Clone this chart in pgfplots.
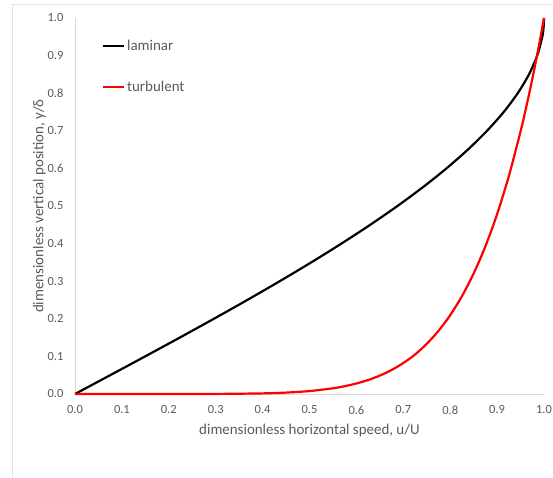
\documentclass[border=0pt]{standalone}
\usepackage{pgfplots}
\pgfplotsset{compat=1.18}
\usepackage{fontspec}
\setmainfont{Carlito}
\definecolor{txt}{HTML}{595959}
\definecolor{axl}{HTML}{D9D9D9}
\definecolor{brd}{HTML}{E3E3E3}
\begin{document}
\begin{tikzpicture}
\useasboundingbox (0,0) rectangle (553bp,-478bp);
\draw[brd, line width=1bp] (12.5bp,-478bp) -- (12.5bp,-4.5bp) -- (553bp,-4.5bp);
\begin{axis}[
  at={(75bp,-394bp)}, anchor=south west,
  width=469bp, height=376bp, scale only axis,
  xmin=0, xmax=1, ymin=0, ymax=1,
  xtick={0,0.1,...,1.01}, ytick={0,0.1,...,1.01},
  /pgf/number format/fixed, /pgf/number format/fixed zerofill,
  /pgf/number format/precision=1,
  /pgf/number format/assume math mode=true,
  tick style={draw=none},
  axis lines=left,
  separate axis lines,
  x axis line style={draw=axl, line width=0.8bp, -},
  y axis line style={draw=axl, line width=0.8bp, -},
  ticklabel style={font=\fontsize{12.5}{14}\selectfont, text=txt},
  xticklabel style={yshift=-6bp},
  yticklabel style={xshift=-6bp},
  xlabel={dimensionless horizontal speed, u/U},
  ylabel={dimensionless vertical position, y/δ},
  label style={font=\fontsize{15}{17}\selectfont, text=txt},
  xlabel style={yshift=-3bp},
  ylabel style={yshift=-5bp},
  legend style={at={(0.057,0.947)}, anchor=north west, draw=none, fill=none,
    font=\fontsize{15}{17}\selectfont, text=txt, row sep=25bp,
    inner sep=0pt},
  legend cell align=left,
  legend image code/.code={\draw[#1] (0bp,0bp) -- (21bp,0bp);},
  clip=false,
]
\addplot[black, line width=2.2bp, smooth] coordinates {
(0,0) (0.07494,0.05) (0.1495,0.1) (0.22331,0.15) (0.296,0.2) (0.36719,0.25)
(0.4365,0.3) (0.50356,0.35) (0.568,0.4) (0.62944,0.45) (0.6875,0.5)
(0.74181,0.55) (0.792,0.6) (0.83769,0.65) (0.8785,0.7) (0.91406,0.75)
(0.944,0.8) (0.96794,0.85) (0.9855,0.9) (0.99631,0.95) (0.99907,0.975) (1,1)
};
\addlegendentry{laminar}
\addplot[red, line width=2.2bp, smooth] coordinates {
(0,0) (0.1,0.0000001) (0.2,0.0000128) (0.3,0.000219) (0.4,0.0016384)
(0.45,0.003737) (0.5,0.0078125) (0.55,0.015224) (0.575,0.020781) (0.6,0.0279936)
(0.625,0.037253) (0.65,0.049022) (0.675,0.063845) (0.7,0.0823543)
(0.725,0.105) (0.75,0.13348) (0.775,0.167924) (0.8,0.2097152) (0.825,0.260122)
(0.85,0.320577) (0.875,0.392696) (0.9,0.4782969) (0.925,0.579418)
(0.95,0.6983373) (0.96,0.751447) (0.97,0.807983) (0.98,0.868125)
(0.99,0.932065) (1,1)
};
\addlegendentry{turbulent}
\end{axis}
\end{tikzpicture}
\end{document}
